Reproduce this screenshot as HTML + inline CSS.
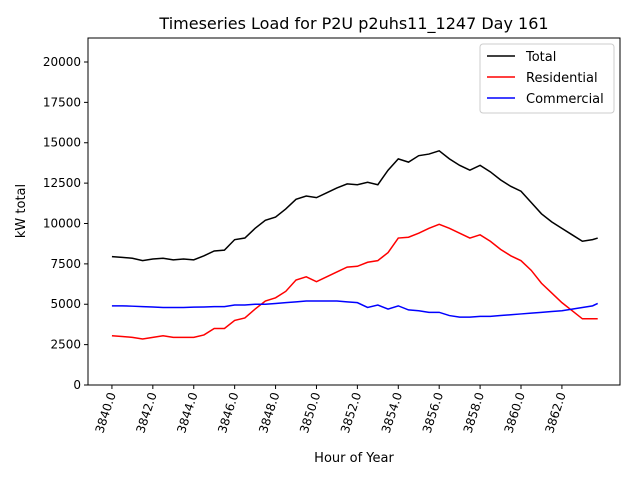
<!DOCTYPE html>
<html><head><meta charset="utf-8"><style>
body{margin:0;background:#fff;}
svg{font-family:"DejaVu Sans","Liberation Sans",sans-serif;}
</style></head><body>
<svg id="chart" width="640" height="480">
<text x="354" y="29" text-anchor="middle" font-size="16">Timeseries Load for P2U p2uhs11_1247  Day 161</text>
<text x="354" y="462" text-anchor="middle" font-size="13">Hour of Year</text>
<text x="0" y="0" transform="translate(25,211) rotate(-90)" text-anchor="middle" font-size="13">kW total</text>
<g id="plot"></g>
</svg>
<script>
const hours=[3840,3840.5,3841,3841.5,3842,3842.5,3843,3843.5,3844,3844.5,3845,3845.5,3846,3846.5,3847,3847.5,3848,3848.5,3849,3849.5,3850,3850.5,3851,3851.5,3852,3852.5,3853,3853.5,3854,3854.5,3855,3855.5,3856,3856.5,3857,3857.5,3858,3858.5,3859,3859.5,3860,3860.5,3861,3861.5,3862,3862.5,3863,3863.5,3863.75];
const total=[7950,7900,7850,7700,7800,7850,7750,7800,7750,8000,8300,8350,9000,9100,9700,10200,10400,10900,11500,11700,11600,11900,12200,12450,12400,12550,12400,13300,14000,13800,14200,14300,14500,14000,13600,13300,13600,13200,12700,12300,12000,11300,10600,10100,9700,9300,8900,9000,9100];
const residential=[3050,3000,2950,2850,2950,3050,2950,2950,2950,3100,3500,3500,4000,4150,4700,5200,5400,5800,6500,6700,6400,6700,7000,7300,7350,7600,7700,8200,9100,9150,9400,9700,9950,9700,9400,9100,9300,8900,8400,8000,7700,7100,6300,5700,5100,4600,4100,4100,4100];
const commercial=[4900,4900,4880,4850,4830,4800,4800,4800,4820,4830,4850,4850,4950,4950,5000,5000,5050,5100,5150,5200,5200,5200,5200,5150,5100,4800,4950,4700,4900,4650,4600,4500,4500,4300,4200,4200,4250,4250,4300,4350,4400,4450,4500,4550,4600,4700,4800,4900,5050];
const yTicks=[0,2500,5000,7500,10000,12500,15000,17500,20000];
const xTicks=[3840,3842,3844,3846,3848,3850,3852,3854,3856,3858,3860,3862];
const L=88,R=620,T=38,B=385,X0=3838.83,X1=3864.84,Y1=21486;
const sx=v=>L+(v-X0)/(X1-X0)*(R-L);
const sy=v=>B-v/Y1*(B-T);
const NS='http://www.w3.org/2000/svg';
const g=document.getElementById('plot');
function mk(t,a){const e=document.createElementNS(NS,t);for(const k in a)e.setAttribute(k,a[k]);g.appendChild(e);return e;}
const frame=mk('rect',{x:L,y:T,width:R-L,height:B-T,fill:'none',stroke:'#000','stroke-width':1});


yTicks.forEach(v=>{
  const y=sy(v);
  const t=mk('line',{x1:L-4,x2:L,y1:y,y2:y,stroke:'#000'});
  
  
  const l=mk('text',{x:L-7,y:y+4,'text-anchor':'end','font-size':12});
  l.textContent=v;
  
  
});
xTicks.forEach(v=>{
  const x=sx(v);
  const t=mk('line',{x1:x,x2:x,y1:B,y2:B+4,stroke:'#000'});
  
  
  const l=mk('text',{x:0,y:0,'text-anchor':'end','font-size':12,transform:`translate(${x+4},${B+9}) rotate(-72)`});
  l.textContent=v.toFixed(1);
  
  
});
function line(vals,color,name){
  const p=mk('polyline',{points:hours.map((h,i)=>sx(h)+','+sy(vals[i])).join(' '),fill:'none',stroke:color,'stroke-width':1.5});
  
  
}
line(total,'#000','total-line');
line(residential,'#ff0000','residential-line');
line(commercial,'#0000ff','commercial-line');
const lb=mk('rect',{x:480,y:44,width:134,height:69,fill:'#fff',stroke:'#ccc',rx:3});


[['Total','#000'],['Residential','#ff0000'],['Commercial','#0000ff']].forEach((d,i)=>{
  const y=56+i*21;
  const s=mk('line',{x1:487,x2:515,y1:y,y2:y,stroke:d[1],'stroke-width':1.5});
  
  
  const t=mk('text',{x:526,y:y+5,'font-size':13});
  t.textContent=d[0];
  
  
});
</script>
</body></html>
